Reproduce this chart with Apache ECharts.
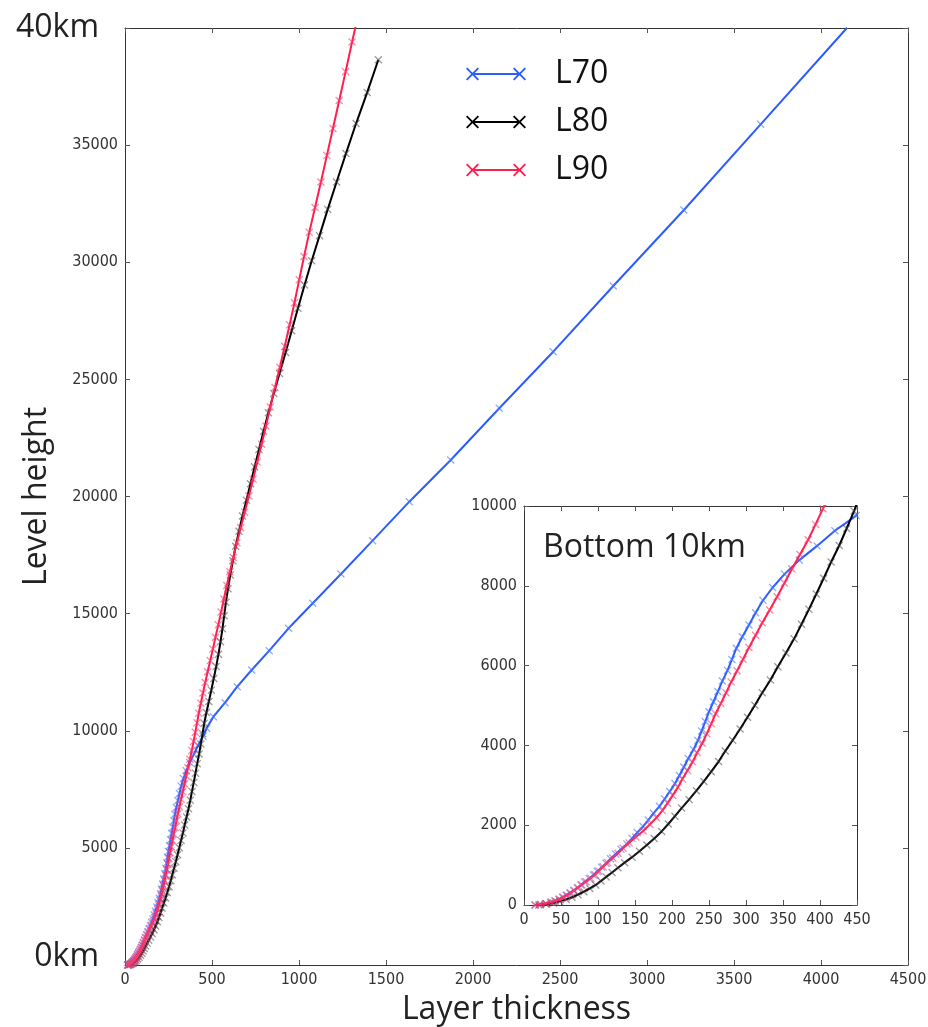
<!DOCTYPE html>
<html>
<head>
<meta charset="utf-8">
<title>Level height vs layer thickness</title>
<script src="https://cdn.jsdelivr.net/npm/echarts@6/dist/echarts.min.js"></script>
<style>
  html, body { margin: 0; padding: 0; background: #fff; }
  #chart { width: 928px; height: 1027px; }
</style>
</head>
<body>
<div id="chart"></div>
<script>
// level heights (m) and layer thicknesses (m)
const l70Height = [0, 15, 37, 67, 104, 146, 193, 245, 302, 364, 431, 503, 580, 662, 750, 844, 943, 1048, 1159, 1276,
  1400, 1531, 1670, 1816, 1969, 2130, 2298, 2473, 2656, 2846, 3043, 3247, 3457, 3673, 3895, 4124, 4359, 4599, 4844, 5094,
  5350, 5612, 5880, 6155, 6436, 6723, 7018, 7322, 7635, 7958, 8293, 8643, 9000, 9380, 9760, 10104, 10600, 11198, 11881, 12594,
  13418, 14374, 15441, 16692, 18114, 19779, 21558, 23765, 26182, 28987, 32231, 35888, 40010]
const l70Thickness = [15, 22, 30, 37, 42, 47, 52, 57, 62, 67, 72, 77, 82, 88, 94, 99, 105, 111, 117, 124,
  131, 139, 146, 153, 161, 168, 175, 183, 190, 197, 204, 210, 216, 222, 229, 235, 240, 245, 250, 256,
  262, 268, 275, 281, 287, 295, 304, 313, 323, 336, 352, 372, 396, 420, 449, 469, 508, 575, 645, 728,
  829, 940, 1079, 1241, 1423, 1634, 1872, 2151, 2461, 2806, 3212, 3653, 4150]

const l80Height = [0, 20, 50, 90, 140, 195, 260, 333, 414, 503, 600, 704, 815, 934, 1061, 1199, 1346, 1502, 1668, 1844,
  2030, 2225, 2429, 2642, 2864, 3097, 3341, 3595, 3858, 4130, 4412, 4704, 5006, 5318, 5640, 5973, 6316, 6670, 7035, 7410,
  7795, 8190, 8595, 9010, 9436, 9872, 10318, 10780, 11250, 11733, 12229, 12739, 13263, 13801, 14351, 14911, 15481, 16061, 16653, 17258,
  17878, 18514, 19169, 19844, 20544, 21266, 22011, 22781, 23576, 24401, 25256, 26146, 27076, 28036, 29031, 30061, 31136, 32256, 33426, 34646,
  35921, 37251, 38644]
const l80Thickness = [20, 30, 40, 48, 57, 65, 73, 81, 89, 97, 104, 111, 119, 127, 136, 146, 156, 166, 176, 186,
  195, 204, 213, 223, 233, 243, 253, 263, 272, 282, 292, 302, 312, 322, 333, 343, 354, 365, 375, 385,
  395, 405, 415, 426, 436, 446, 455, 468, 482, 496, 510, 524, 537, 549, 560, 570, 580, 592, 605, 620,
  636, 655, 675, 698, 721, 745, 770, 796, 824, 855, 888, 923, 958, 994, 1032, 1073, 1118, 1165, 1216, 1270,
  1328, 1392, 1456]

const l90Height = [0, 15, 37, 66, 102, 144, 192, 245, 303, 366, 434, 507, 585, 669, 759, 855, 956, 1063, 1176, 1296,
  1423, 1557, 1702, 1855, 2016, 2187, 2366, 2553, 2747, 2948, 3156, 3370, 3591, 3819, 4053, 4294, 4541, 4794, 5053, 5318,
  5591, 5871, 6159, 6455, 6759, 7072, 7394, 7727, 8070, 8422, 8783, 9155, 9539, 9933, 10337, 10751, 11175, 11611, 12059, 12520,
  12995, 13485, 13990, 14520, 15065, 15625, 16200, 16790, 17397, 18022, 18667, 19332, 20020, 20733, 21468, 22228, 23013, 23823, 24658, 25520,
  26410, 27328, 28273, 29248, 30248, 31276, 32334, 33426, 34552, 35712, 36907, 38137, 39405, 40710]
const l90Thickness = [15, 22, 29, 36, 42, 48, 53, 58, 63, 68, 73, 78, 84, 90, 96, 101, 107, 113, 120, 127,
  134, 142, 151, 161, 170, 179, 187, 194, 201, 208, 214, 221, 228, 234, 241, 247, 253, 259, 266, 273,
  280, 288, 296, 304, 313, 322, 332, 342, 352, 362, 373, 384, 394, 404, 414, 424, 436, 448, 461, 475,
  490, 505, 520, 536, 552, 568, 585, 603, 622, 643, 665, 688, 712, 736, 760, 785, 810, 835, 862, 890,
  918, 946, 974, 1001, 1029, 1059, 1092, 1126, 1160, 1195, 1231, 1268, 1305, 1345]

const seriesNames = ['L70', 'L80', 'L90']
const heights = [l70Height, l80Height, l90Height]
const thicknesses = [l70Thickness, l80Thickness, l90Thickness]
const lineColors = ['#2b5cff', '#000000', '#ff1f4f']
const markColors = ['rgba(70,120,255,0.6)', 'rgba(60,60,60,0.5)', 'rgba(255,60,110,0.6)']

// axis ranges: [max, interval]
const mainX = [4500, 500]
const mainY = [40000, 5000]
const insetX = [450, 50]
const insetY = [10000, 2000]

const tickFont = 'DejaVu Sans Condensed, DejaVu Sans, sans-serif'
const bigFont = 'Open Sans, Noto Sans, sans-serif'

// x shaped marker
const xMark = 'path://M0,1.2L1.2,0L5,3.8L8.8,0L10,1.2L6.2,5L10,8.8L8.8,10L5,6.2L1.2,10L0,8.8L3.8,5Z'
// legend icon: line with an x at both ends
const legendIcon = 'path://M0,1.3L1.3,0L6.5,5.2L11.7,0L13,1.3L7.8,6.5L13,11.7L11.7,13L6.5,7.8L1.3,13L0,11.7L5.2,6.5Z' +
  'M6.5,5.5L53.5,5.5L53.5,7.5L6.5,7.5Z' +
  'M47,1.3L48.3,0L53.5,5.2L58.7,0L60,1.3L54.8,6.5L60,11.7L58.7,13L53.5,7.8L48.3,13L47,11.7L52.2,6.5Z'

function axis(gridIndex, position, range, showLabel, labelOpts) {
  return {
    type: 'value',
    gridIndex,
    position,
    min: 0,
    max: range[0],
    interval: range[1],
    axisLine: { show: true, onZero: false, lineStyle: { color: '#333', width: 1 } },
    axisTick: { show: true, inside: true, length: 5, lineStyle: { color: '#555' } },
    splitLine: { show: false },
    axisLabel: Object.assign({
      show: showLabel,
      fontFamily: tickFont,
      fontSize: 16,
      color: '#333',
      margin: 7,
      showMinLabel: true,
      showMaxLabel: true,
      formatter: v => String(v)
    }, labelOpts || {})
  }
}

const xAxes = [
  Object.assign(axis(0, 'bottom', mainX, true), {
    name: 'Layer thickness',
    nameLocation: 'middle',
    nameGap: 29,
    nameMoveOverlap: false,
    nameTextStyle: { fontFamily: bigFont, fontSize: 32, color: '#222' }
  }),
  axis(0, 'top', mainX, false),
  axis(1, 'bottom', insetX, true),
  axis(1, 'top', insetX, false)
]

const yAxes = [
  Object.assign(axis(0, 'left', mainY, true, {
    formatter: v => v === 0 ? '{zero|0km}' : (v === 40000 ? '{top|40km}' : String(v)),
    rich: {
      zero: { fontFamily: bigFont, fontSize: 32, color: '#222', padding: [0, 19, 16, 0] },
      top: { fontFamily: bigFont, fontSize: 32, color: '#222', padding: [0, 19, 0, 0] }
    }
  }), {
    name: 'Level height',
    nameLocation: 'middle',
    nameRotate: 90,
    nameGap: 72,
    nameMoveOverlap: false,
    nameTextStyle: { fontFamily: bigFont, fontSize: 32, color: '#222' }
  }),
  axis(0, 'right', mainY, false),
  axis(1, 'left', insetY, true),
  axis(1, 'right', insetY, false)
]

const series = []
seriesNames.forEach((name, i) => {
  const data = thicknesses[i].map((t, k) => [t, heights[i][k]])
  ;[0, 2].forEach(ax => {
    series.push({
      type: 'line',
      name,
      xAxisIndex: ax,
      yAxisIndex: ax,
      data,
      clip: true,
      symbol: xMark,
      symbolSize: 8,
      showAllSymbol: true,
      lineStyle: { color: lineColors[i], width: 2 },
      itemStyle: { color: markColors[i] },
      emphasis: { disabled: true },
      z: 2 + i
    })
  })
})

const chart = echarts.init(document.getElementById('chart'))
chart.setOption({
  animation: false,
  backgroundColor: '#fff',
  grid: [
    { left: 125, right: 20, top: 28, bottom: 62, containLabel: false, outerBoundsMode: 'none' },
    { left: 524, right: 71, top: 506, bottom: 122, containLabel: false, outerBoundsMode: 'none', show: true, backgroundColor: '#fff', borderWidth: 0 }
  ],
  xAxis: xAxes,
  yAxis: yAxes,
  legend: {
    orient: 'vertical',
    left: 466,
    top: 58,
    padding: 0,
    itemGap: 16,
    itemWidth: 60,
    itemHeight: 13,
    icon: legendIcon,
    selectedMode: false,
    textStyle: { fontFamily: bigFont, fontSize: 32, color: '#111', padding: [0, 0, 0, 24] },
    data: seriesNames.map((n, i) => ({ name: n, itemStyle: { color: lineColors[i] } }))
  },
  graphic: [{
    type: 'text',
    left: 543,
    top: 532,
    z: 100,
    style: { text: 'Bottom 10km', font: '32px ' + bigFont, fill: '#222' }
  }],
  series
})
</script>
</body>
</html>
